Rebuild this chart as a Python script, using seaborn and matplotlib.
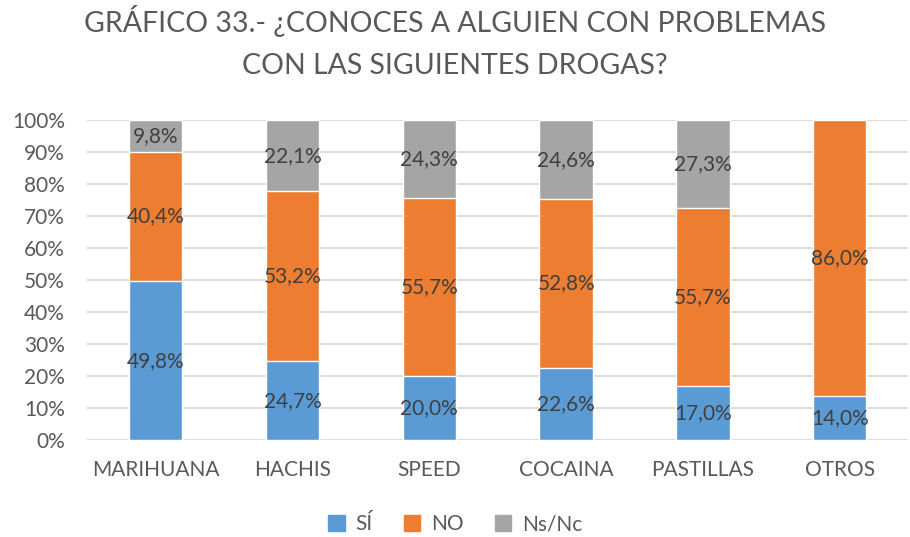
import pandas as pd
import numpy as np
import matplotlib.pyplot as plt
import seaborn as sns

# ── Data ─────────────────────────────────────
categorias = ['MARIHUANA', 'HACHIS', 'SPEED', 'COCAINA', 'PASTILLAS', 'OTROS']
si = [49.8, 24.7, 20.0, 22.6, 17.0, 14.0]
no = [40.4, 53.2, 55.7, 52.8, 55.7, 86.0]
nsnc = [9.8, 22.1, 24.3, 24.6, 27.3, 0.0]

series = ['SÍ', 'NO', 'Ns/Nc']
colores = ['#5B9BD5', '#ED7D31', '#A5A5A5']
texto = '#595959'

df = pd.DataFrame({'categoria': categorias, 'SÍ': si, 'NO': no, 'Ns/Nc': nsnc})
df['SÍ+NO'] = df['SÍ'] + df['NO']
df['total'] = df['SÍ+NO'] + df['Ns/Nc']

sns.set_style('white')
plt.rcParams['font.family'] = ['Lato', 'DejaVu Sans']

fig, ax = plt.subplots(figsize=(9.1, 5.37), dpi=100)

# stacked bars: draw cumulative totals back to front
ancho = 0.39
sns.barplot(data=df, x='categoria', y='total', color=colores[2],
            width=ancho, saturation=1, ax=ax, zorder=3)
sns.barplot(data=df, x='categoria', y='SÍ+NO', color=colores[1],
            width=ancho, saturation=1, ax=ax, zorder=3)
sns.barplot(data=df, x='categoria', y='SÍ', color=colores[0],
            width=ancho, saturation=1, ax=ax, zorder=3)

# data labels in the middle of each segment
for i in range(len(df)):
    base = 0
    for s in series:
        v = df[s].iloc[i]
        if v > 0:
            ax.text(i, base + v / 2, f'{v:.1f}%'.replace('.', ','),
                    ha='center', va='center', fontsize=15, color='#404040',
                    zorder=4)
        base += v

ax.set_ylim(0, 100)
ax.set_yticks(np.arange(0, 101, 10))
ax.set_yticklabels([f'{t}%' for t in range(0, 101, 10)])
ax.set_xlim(-0.5, len(df) - 0.5)
ax.yaxis.grid(True, color='#D9D9D9', linewidth=1.3, zorder=0)
ax.set_axisbelow(True)
for sp in ax.spines.values():
    sp.set_visible(False)
ax.tick_params(axis='both', length=0, labelsize=15, colors=texto)
ax.tick_params(axis='y', pad=16)
ax.tick_params(axis='x', pad=14)
ax.set_xlabel('')
ax.set_ylabel('')

fig.suptitle('GRÁFICO 33.- ¿CONOCES A ALGUIEN CON PROBLEMAS\nCON LAS SIGUIENTES DROGAS?',
             fontsize=20.5, color=texto, y=0.99, linespacing=1.75)

handles = [plt.Rectangle((0, 0), 1, 1, color=c) for c in colores]
fig.legend(handles, series, loc='lower center', ncol=3, frameon=False,
           fontsize=15, labelcolor=texto, handlelength=0.8, handleheight=0.8,
           handletextpad=0.5, columnspacing=1.5, bbox_to_anchor=(0.5, -0.03))

fig.subplots_adjust(left=0.096, right=0.998, top=0.776, bottom=0.18)
plt.savefig('out.png', dpi=100)
plt.close()
